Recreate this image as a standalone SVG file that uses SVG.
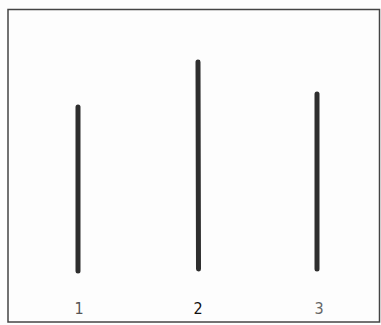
<svg xmlns="http://www.w3.org/2000/svg" width="381" height="325" viewBox="0 0 381 325">
<style>
.bar{stroke:#2e2e2e;stroke-width:5;stroke-linecap:round}
.lbl{font-family:"Liberation Sans Narrow","DejaVu Sans Condensed","Liberation Sans",sans-serif;font-size:16px;text-anchor:middle}
</style>
<rect x="0" y="0" width="381" height="325" fill="#fdfdfd"/>
<rect x="8" y="9.5" width="371.5" height="312.5" fill="none" stroke="#444" stroke-width="1.5"/>
<g id="line1"><line class="bar" x1="78" y1="107" x2="78" y2="271"/><text class="lbl" x="79" y="314" fill="#555">1</text></g>
<g id="line2"><line class="bar" x1="198" y1="62" x2="198.5" y2="269"/><text class="lbl" x="198" y="314" fill="#111">2</text></g>
<g id="line3"><line class="bar" x1="317" y1="94" x2="317" y2="269"/><text class="lbl" x="319" y="314" fill="#666">3</text></g>
</svg>
